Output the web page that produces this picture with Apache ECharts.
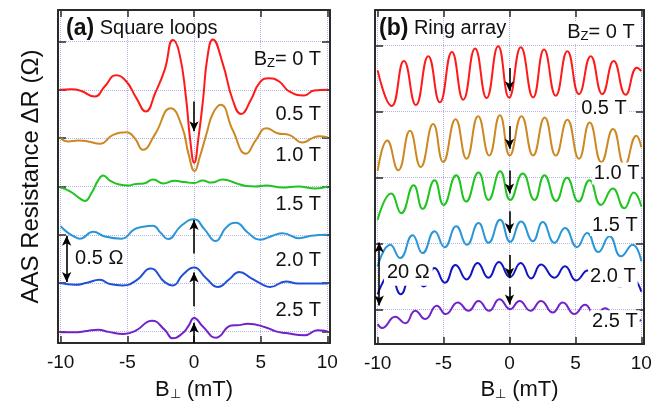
<!DOCTYPE html>
<html>
<head>
<meta charset="utf-8">
<script src="https://cdn.jsdelivr.net/npm/echarts@6/dist/echarts.min.js"></script>
<style>
  html, body { margin: 0; padding: 0; background: #fff; }
  #chart { width: 672px; height: 406px; }
</style>
</head>
<body>
<div id="chart"></div>
<script>
  // tick values shared by both panels
  var xTicks = [-10, -5, 0, 5, 10];
  var sqYTicks = [0, 0.5, 1.0, 1.5, 2.0, 2.5, 3.0];
  var ringYTicks = [0, 20, 40, 60, 80];

  var fieldNames = ['0 T', '0.5 T', '1.0 T', '1.5 T', '2.0 T', '2.5 T'];
  var colors = ['#ff1a1a', '#cc8822', '#1fc41f', '#2a96d8', '#2050d8', '#7222c8'];
  var ringColors = ['#ff1a1a', '#cc8822', '#1fc41f', '#2a96d8', '#1212c6', '#7222c8'];

  /* (a) square loops: [B_perp (mT), dR relative to the curve baseline (Ohm)] */
  var sqOffsets = [2.5, 2.0, 1.5, 1.0, 0.5, 0];
  var sq0T = [[-10,0],[-9.2,0.005],[-8.5,-0.01],[-7.45,-0.07],[-6.7,0.035],[-5.85,0.15],[-5.07,0.086],[-4.32,-0.086],[-3.62,-0.225],[-2.9,-0.03],[-2.2,0.206],[-1.58,0.515],[-1.1,0.38],[-0.6,-0.08],[-0.3,-0.5],[0.02,-0.754],[0.33,-0.5],[0.68,-0.1],[1.0,0.33],[1.41,0.521],[2.15,0.274],[2.9,-0.103],[3.53,-0.25],[4.27,-0.103],[4.9,0.069],[5.6,0.12],[6.39,0.086],[7.14,-0.017],[8.26,-0.058],[9.0,-0.007],[10,0]];
  var sq05T = [[-10,0],[-9.43,-0.034],[-8.68,-0.024],[-7.94,-0.034],[-7.06,-0.058],[-6.07,0.034],[-5.07,0.06],[-4.45,0],[-3.83,-0.12],[-2.95,0.034],[-1.75,0.31],[-0.9,0.12],[-0.4,-0.17],[0.04,-0.34],[0.42,-0.2],[0.95,0.05],[1.4,0.25],[2.0,0.345],[2.9,0.085],[3.9,-0.162],[4.65,-0.017],[5.44,0.103],[6.26,0.051],[7.14,0.034],[8.13,-0.045],[8.88,0],[9.4,0.02],[10,0.01]];
  var sq10T = [[-10,-0.01],[-9.3,-0.05],[-8.6,-0.12],[-8.18,-0.15],[-7.7,-0.07],[-7.2,0.06],[-6.81,0.113],[-6.3,0.06],[-5.6,0.02],[-4.9,0.01],[-4.45,0.024],[-3.7,0.034],[-3.05,0.072],[-2.3,0.03],[-1.46,0.058],[-0.7,0.045],[0,0.035],[0.66,0.062],[1.3,0.04],[2.15,0.072],[3.15,0.034],[3.9,0.005],[4.6,0.0],[5.4,0.01],[6.64,-0.012],[7.8,0.0],[9.13,-0.02],[10,0]];
  var sq15T = [[-10,0.09],[-9.55,0.03],[-9.1,-0.01],[-8.56,-0.04],[-7.56,0.031],[-6.69,-0.017],[-5.44,-0.04],[-4.45,0.058],[-3.83,0.082],[-3.08,0.093],[-2.5,0.02],[-1.96,-0.045],[-0.96,0.093],[0,0.161],[0.78,0.058],[1.61,-0.065],[2.41,0.075],[3.15,0.125],[4.02,0.024],[4.95,-0.051],[5.89,-0.01],[6.64,0.017],[7.88,-0.035],[8.8,-0.01],[10,0]];
  var sq20T = [[-10,0],[-8.93,-0.017],[-8.1,0.0],[-7.06,0.034],[-6.32,-0.01],[-5.32,-0.024],[-4.3,0.03],[-3.25,0.15],[-2.2,0.01],[-1.58,-0.024],[-0.84,0.086],[0,0.161],[0.91,0.051],[1.8,-0.04],[2.65,0.04],[3.4,0.115],[4.27,0.051],[5.14,-0.015],[5.7,-0.04],[6.89,0.017],[7.8,-0.005],[8.8,-0.005],[10,-0.005]];
  var sq25T = [[-10,-0.01],[-9,-0.01],[-8,0.005],[-7.19,0.017],[-6.4,-0.005],[-5.3,-0.027],[-4.4,0.005],[-3.15,0.11],[-2.2,0.017],[-1.58,-0.072],[-0.84,-0.017],[-0.4,0.06],[0,0.14],[0.66,0.051],[1.66,-0.065],[2.8,0.06],[3.4,0.065],[4.02,0.079],[5.4,0.041],[6.14,0.0],[6.89,-0.017],[8.3,-0.04],[9.26,0.012],[9.6,0.01],[10,0]];

  /* (b) ring array: [B_perp (mT), dR as plotted (Ohm)] */
  var ring0T = [[-10,72.5],[-8.94,61.7],[-8.01,75.3],[-7.10,62.0],[-6.16,76.8],[-5.28,62.8],[-4.37,78.1],[-3.51,63.6],[-2.61,79.1],[-1.74,64.1],[-0.86,79.8],[-0.03,64.2],[0.86,79.5],[1.79,64.3],[2.62,78.8],[3.51,64.8],[4.39,78.3],[5.27,65.3],[6.16,76.8],[7.04,65.3],[7.90,75.3],[8.81,65.1],[9.67,73.3],[10,72.3]];
  var ring05T = [[-10,42.0],[-9.27,51.2],[-8.44,42.2],[-7.55,54.2],[-6.74,43.2],[-5.79,56.2],[-5.03,44.7],[-4.09,57.7],[-3.26,45.7],[-2.38,58.6],[-1.54,46.7],[-0.73,58.9],[0.02,46.7],[0.91,58.6],[1.79,46.7],[2.67,58.2],[3.51,46.7],[4.39,57.5],[5.27,45.7],[6.08,56.7],[6.97,44.7],[7.85,54.7],[8.73,43.7],[9.62,52.7],[10,49.2]];
  var ring10T = [[-10,27.2],[-8.97,35.2],[-8.21,29.2],[-7.27,37.7],[-6.59,30.5],[-5.68,39.2],[-5.0,31.7],[-4.04,40.7],[-3.29,32.7],[-2.35,41.5],[-1.59,33.2],[-0.71,41.9],[0.05,33.2],[1.01,41.2],[1.89,33.2],[2.65,40.7],[3.53,32.9],[4.36,39.9],[5.23,32.7],[6.06,39.2],[6.94,31.7],[7.83,36.7],[8.71,30.7],[9.42,35.5],[10,31.2]];
  var ring15T = [[-10,13.1],[-9.04,19.6],[-8.29,15.6],[-7.35,22.5],[-6.59,17.1],[-5.68,23.7],[-4.92,18.9],[-4.04,25.2],[-3.23,19.6],[-2.35,26.2],[-1.59,20.2],[-0.71,27.2],[0.05,20.5],[0.88,26.7],[1.77,20.7],[2.52,26.5],[3.41,20.2],[4.21,24.7],[5.12,18.9],[5.88,23.2],[6.74,17.4],[7.58,22.2],[8.46,16.1],[9.34,19.6],[10,14.6]];
  var ring20T = [[-10,4.6],[-9.05,10.5],[-8.25,4.6],[-7.4,11.5],[-6.5,7.0],[-5.68,12.6],[-4.9,8.1],[-4.09,13.5],[-3.25,9.1],[-2.42,14.1],[-1.6,9.6],[-0.8,14.4],[0.03,9.8],[0.85,14.1],[1.64,9.4],[2.39,13.6],[3.41,9.6],[4.21,13.1],[5.05,8.8],[5.93,11.8],[6.7,7.6],[7.55,10.8],[8.35,6.8],[9.2,9.8],[10,5.4]];
  var ring25T = [[-10,-4.4],[-9.67,-5.6],[-8.66,-2.2],[-7.91,-4.2],[-7.15,-0.4],[-6.39,-2.9],[-5.51,1.1],[-4.83,-1.4],[-3.92,2.1],[-3.11,-0.4],[-2.35,2.6],[-1.55,-0.4],[-0.76,3.1],[0.05,0.1],[0.76,2.6],[1.59,-0.4],[2.39,2.6],[3.28,-0.9],[4.04,2.1],[4.92,-1.4],[5.73,1.4],[6.5,-1.8],[7.25,0.4],[8.1,-2.4],[8.9,-0.6],[9.65,-3.6],[10,-3.2]];

  var sqCurves = [sq0T, sq05T, sq10T, sq15T, sq20T, sq25T];
  var ringCurves = [ring0T, ring05T, ring10T, ring15T, ring20T, ring25T];

  var font = '"Liberation Sans", Arial, sans-serif';
  var ink = '#111';
  var axisColor = '#2a2a2a';
  var gridColor = '#b4b4ec';
  var subStyle = {fontSize: 13, fontFamily: font, color: ink, lineHeight: 12, padding: [10, 0, 0, 0], verticalAlign: 'bottom'};

  function xAxisOf(grid, bottom, gap, shift) {
    return {
      type: 'value', gridIndex: grid, position: bottom ? 'bottom' : 'top',
      min: -10.2, max: 10.2,
      axisLine: {show: true, onZero: false, lineStyle: {color: axisColor, width: 2}},
      axisTick: {show: true, inside: true, length: 7, customValues: xTicks, lineStyle: {color: axisColor, width: 1.5}},
      axisLabel: {show: bottom, customValues: xTicks, color: ink, fontSize: 19, fontFamily: font, margin: 10},
      splitLine: {show: bottom, lineStyle: {color: gridColor, type: 'dotted', width: 1}},
      name: bottom ? 'B{s|⊥} (mT)' : '',
      nameLocation: 'middle', nameGap: gap || 30,
      nameTextStyle: {fontSize: 22, fontFamily: font, color: ink, padding: [0, 0, 0, shift || 0], rich: {s: subStyle}}
    };
  }

  function yAxisOf(grid, left, min, max, ticks) {
    return {
      type: 'value', gridIndex: grid, position: left ? 'left' : 'right',
      min: min, max: max,
      axisLine: {show: true, onZero: false, lineStyle: {color: axisColor, width: 2}},
      axisTick: {show: true, inside: true, length: 8, customValues: ticks, lineStyle: {color: axisColor, width: 1.5}},
      axisLabel: {show: false},
      splitLine: {show: left, lineStyle: {color: gridColor, type: 'dotted', width: 1}}
    };
  }

  function arrowLine(x, from, to) {
    return [{coord: [x, from]}, {coord: [x, to]}];
  }
  function scaleBar(x, from, to) {
    return [{coord: [x, from], symbol: 'arrow'}, {coord: [x, to], symbol: 'arrow'}];
  }
  function note(x, y, text, pos, pad) {
    return {coord: [x, y], value: 0, label: {formatter: text, position: pos, padding: pad || [1, 2]}};
  }

  var markLineBase = {
    silent: true, animation: false,
    symbol: ['none', 'arrow'], symbolSize: [7, 10],
    lineStyle: {color: '#000', width: 1.6, type: 'solid'},
    label: {show: false}, emphasis: {disabled: true}
  };
  var markPointBase = {
    silent: true, animation: false,
    symbol: 'circle', symbolSize: 0,
    itemStyle: {color: 'rgba(0,0,0,0)'},
    label: {show: true, color: ink, fontSize: 20, fontFamily: font, distance: 0,
      backgroundColor: '#fff', rich: {s: subStyle}},
    emphasis: {disabled: true}
  };

  var series = [];
  sqCurves.forEach(function (pts, i) {
    series.push({
      name: '(a) ' + fieldNames[i], type: 'line', xAxisIndex: 0, yAxisIndex: 0,
      smooth: 0.5, symbol: 'none', animation: false,
      lineStyle: {color: colors[i], width: 2},
      data: pts.map(function (p) { return [p[0], p[1] + sqOffsets[i]]; })
    });
  });
  ringCurves.forEach(function (pts, i) {
    series.push({
      name: '(b) ' + fieldNames[i], type: 'line', xAxisIndex: 2, yAxisIndex: 2,
      smooth: 0.5, symbol: 'none', animation: false,
      lineStyle: {color: ringColors[i], width: 2},
      data: pts
    });
  });

  // arrows, scale bars and field labels of panel (a)
  series[0].markLine = Object.assign({}, markLineBase, {
    data: [arrowLine(0, 2.38, 2.07), arrowLine(0, 0.805, 1.153), arrowLine(0, 0.26, 0.61),
      arrowLine(0, -0.12, 0.09), scaleBar(-9.55, 0.99, 0.51)]
  });
  series[0].markPoint = Object.assign({}, markPointBase, {
    data: [
      note(9.68, 2.81, 'B{s|Z}= ' + fieldNames[0], 'left'),
      note(9.68, 2.246, fieldNames[1], 'left'),
      note(9.68, 1.824, fieldNames[2], 'left'),
      note(9.68, 1.31, fieldNames[3], 'left'),
      note(9.68, 0.733, fieldNames[4], 'left'),
      note(9.68, 0.219, fieldNames[5], 'left'),
      note(-9.07, 0.754, '0.5 Ω', 'right')
    ]
  });
  // panel (b)
  series[6].markLine = Object.assign({}, markLineBase, {
    data: [arrowLine(0, 73.2, 66.2), arrowLine(0, 55.6, 48.7), arrowLine(0, 42.1, 35.2),
      arrowLine(0, 29.8, 23.2), arrowLine(0, 16.5, 9.6), arrowLine(0, 6.9, 1.5),
      scaleBar(-9.88, 20.3, 1.2)]
  });
  series[6].markPoint = Object.assign({}, markPointBase, {
    data: [
      note(9.64, 83.9, 'B{s|Z}= ' + fieldNames[0], 'left'),
      note(9.04, 61.0, fieldNames[1], 'left'),
      note(10.0, 41.2, fieldNames[2], 'left'),
      note(9.87, 25.6, fieldNames[3], 'left'),
      note(9.72, 9.9, fieldNames[4], 'left'),
      note(9.87, -3.6, fieldNames[5], 'left'),
      note(-9.52, 11.1, '20 Ω', 'right', [3, 3])
    ]
  });

  var titleStyle = {fontSize: 20, fontWeight: 'normal', color: ink, fontFamily: font,
    rich: {b: {fontSize: 23, fontWeight: 'bold', color: ink, fontFamily: font}}};

  var chart = echarts.init(document.getElementById('chart'));
  chart.setOption({
    animation: false,
    backgroundColor: '#fff',
    title: [
      {text: '{b|(a)} Square loops', left: 66, top: 17, padding: 0, textStyle: titleStyle},
      {text: '{b|(b)} Ring array', left: 379, top: 17, padding: 0, textStyle: titleStyle}
    ],
    grid: [
      {left: 58, right: 342, top: 10, bottom: 61},
      {left: 375, right: 28, top: 10, bottom: 59}
    ],
    xAxis: [xAxisOf(0, true, 36, 0), xAxisOf(0, false), xAxisOf(1, true, 31, 20), xAxisOf(1, false)],
    yAxis: [
      Object.assign(yAxisOf(0, true, -0.12, 3.326, sqYTicks), {
        name: 'AAS Resistance ΔR (Ω)', nameLocation: 'middle', nameRotate: 90, nameGap: 15,
        nameTextStyle: {fontSize: 24, fontFamily: font, color: ink}
      }),
      yAxisOf(0, false, -0.12, 3.326, sqYTicks),
      yAxisOf(1, true, -10.5, 90.8, ringYTicks),
      yAxisOf(1, false, -10.5, 90.8, ringYTicks)
    ],
    series: series
  });
</script>
</body>
</html>
